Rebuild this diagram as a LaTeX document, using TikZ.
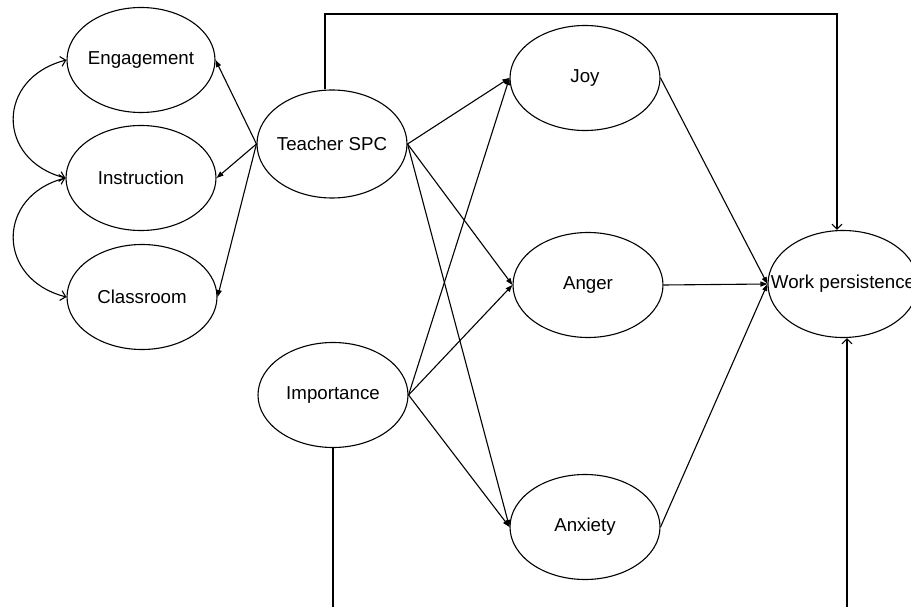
\documentclass[tikz,border=0pt]{standalone}
\usepackage{fontspec}
\setmainfont{Liberation Sans}
\usetikzlibrary{shapes.geometric,arrows.meta,calc}
\begin{document}
\begin{tikzpicture}[x=1pt,y=-1pt,
  var/.style={ellipse, draw, line width=1.1pt, minimum width=150pt, minimum height=105pt, inner sep=0pt},
  lbl/.style={font=\fontsize{18.7}{22}\selectfont, inner sep=0pt},
  conn/.style={line width=1.1pt, -{Triangle[length=7pt,width=5pt]}},
  openarr/.style={line width=1.1pt, -{Straight Barb[length=5pt,width=10pt]}},
  dbl/.style={line width=1.1pt, {Straight Barb[length=5pt,width=10pt]}-{Straight Barb[length=5pt,width=10pt]}},
  plain/.style={line width=1.1pt}]
\useasboundingbox (0,0) rectangle (911,607);
\clip (0,0) rectangle (911,607);
% variables
\node[var, minimum width=148pt] (eng) at (141,60) {};
\node[lbl] at (eng.center) {Engagement};
\node[var] (ins) at (141,178) {};
\node[lbl] at (ins.center) {Instruction};
\node[var] (cla) at (142,297) {};
\node[lbl] at (cla.center) {Classroom};
\node[var, minimum height=108pt] (tsp) at (332,144) {};
\node[lbl] at (tsp.center) {Teacher SPC};
\node[var] (imp) at (333,395) {};
\node[lbl] at (imp.center) {Importance};
\node[var] (joy) at (585,78) {};
\node[lbl] at (joy.center) {Joy};
\node[var] (ang) at (588,285) {};
\node[lbl] at (ang.center) {Anger};
\node[var] (anx) at (585,527) {};
\node[lbl] at (anx.center) {Anxiety};
\node[var, minimum height=107pt] (wp) at (843,284) {};
\node[lbl] at (wp.center) {Work persistence};
% covariances
\draw[dbl] (eng.west) .. controls (-4,78) and (-4,160) .. (ins.west);
\draw[dbl] (ins.west) .. controls (-4,196) and (-4,279) .. (cla.west);
% teacher SPC to indicators
\draw[conn] (tsp.west) -- (eng.east);
\draw[conn] (tsp.west) -- (ins.east);
\draw[conn] (tsp.west) -- (cla.east);
% predictors to emotions
\draw[conn] (tsp.east) -- (joy.west);
\draw[conn] (tsp.east) -- (ang.west);
\draw[conn] (tsp.east) -- (anx.west);
\draw[conn] (imp.east) -- (joy.west);
\draw[conn] (imp.east) -- (ang.west);
\draw[conn] (imp.east) -- (anx.west);
% emotions to outcome
\draw[conn] (joy.east) -- (wp.west);
\draw[conn] (ang.east) -- (wp.west);
\draw[conn] (anx.east) -- (wp.west);
% direct paths
\coordinate (t1) at (325,14);
\coordinate (t2) at (837,14);
\draw[openarr] (tsp.north -| t1) -- (t1) -- (t2) -- (t2 |- wp.north);
\coordinate (b1) at (333,615);
\coordinate (b2) at (847,615);
\draw[plain] (imp.south) -- (b1);
\draw[openarr] (b2) -- (b2 |- wp.south);
\end{tikzpicture}
\end{document}
